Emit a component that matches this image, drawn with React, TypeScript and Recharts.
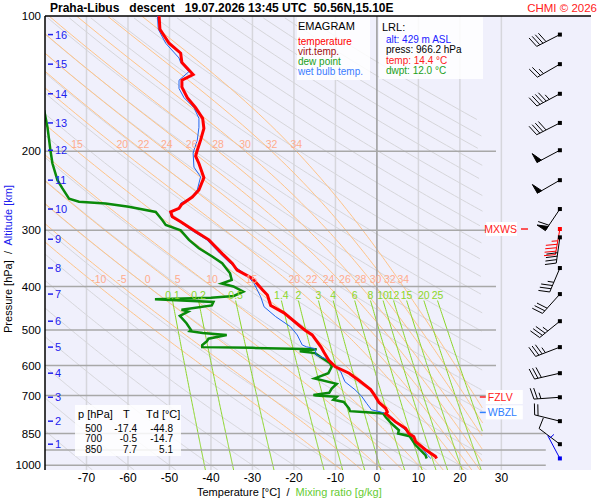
import React from "react";
import {
  ComposedChart,
  Line,
  Scatter,
  XAxis,
  YAxis,
  CartesianGrid,
  ReferenceLine,
} from "recharts";

const FONT = "'Liberation Sans', Arial, Helvetica, sans-serif";

// sounding: [pressure hPa, °C]
const temperature: [number, number][] = [
  [966, 14.4], [956, 14.1], [924, 11.7], [886, 9.3], [864, 8.9], [850, 7.7],
  [828, 6.9], [801, 4.5], [767, 2.1], [761, 2.5], [747, 2.1], [725, 0.5],
  [700, -0.5], [679, -1.5], [648, -4.3], [624, -6.7], [604, -10.0], [584, -11.6],
  [560, -12.8], [545, -13.5], [513, -15.6], [500, -17.4], [488, -18.8], [458, -22.4],
  [441, -25.6], [418, -26.4], [407, -27.6], [384, -30.0], [368, -33.7], [355, -34.9],
  [338, -37.3], [315, -40.5], [302, -43.7], [287, -47.3], [280, -49.3], [273, -49.7],
  [268, -47.7], [263, -47.1], [253, -44.5], [244, -42.9], [229, -41.7], [213, -42.9],
  [205, -43.7], [199, -43.3], [189, -42.5], [178, -41.7], [169, -42.0], [160, -43.7],
  [152, -45.7], [144, -47.0], [139, -47.0], [135, -44.3], [127, -47.0], [121, -47.3],
  [115, -50.1], [107, -52.3], [100, -52.5],
];

const dewPoint: [number, number][] = [
  [966, 12.0], [950, 11.7], [902, 9.3], [862, 7.9], [850, 5.1], [836, 5.3],
  [804, 3.3], [781, 2.1], [767, 1.5], [762, -2.5], [758, -6.5], [748, -6.7],
  [723, -8.0], [715, -10.5], [704, -9.7], [700, -14.7], [698, -15.3], [690, -11.5],
  [675, -10.9], [659, -9.7], [641, -15.0], [624, -11.7], [604, -10.9], [593, -11.3],
  [575, -13.5], [563, -14.9], [558, -18.6], [552, -14.5], [548, -30.0], [546, -42.1],
  [540, -42.1], [530, -41.0], [523, -40.6], [513, -36.2], [508, -42.0], [503, -45.1],
  [500, -44.8], [483, -45.9], [465, -47.5], [455, -45.5], [451, -47.1], [441, -39.8],
  [433, -39.4], [427, -53.5], [424, -40.0], [420, -34.5], [411, -32.2], [400, -34.6],
  [394, -37.4], [387, -35.0], [374, -35.4], [355, -37.3], [343, -39.7], [329, -42.9],
  [315, -45.3], [300, -47.3], [292, -50.9], [285, -51.7], [273, -53.3], [266, -59.8],
  [261.5, -65.4], [259, -71.8], [255, -74.2], [242, -75.8], [232, -77.0], [213, -78.2],
  [199, -78.7], [189, -79.0], [177, -79.4], [162, -80.2],
];

const wetBulb: [number, number][] = [
  [966, 13.0], [950, 12.2], [924, 11.2], [880, 9.4], [842, 7.3], [813, 5.3],
  [771, 2.5], [761, 0.9], [753, -1.3], [728, -2.5], [702, -3.7], [679, -5.3],
  [652, -7.7], [620, -8.7], [604, -10.0], [584, -11.6], [579, -12.4], [569, -14.6],
  [550, -15.0], [545, -17.0], [540, -18.0], [513, -19.2], [492, -20.8], [467, -24.4],
  [444, -27.2], [422, -28.0], [394, -29.6], [378, -31.3], [355, -35.4], [338, -37.8],
  [315, -41.0], [302, -44.2], [287, -47.6], [280, -49.6], [273, -49.9], [268, -47.7],
  [261, -47.3], [254, -44.9], [244, -43.3], [228, -42.5], [217, -44.1], [202, -44.3],
  [199, -44.1], [189, -43.3], [177, -42.9], [169, -42.9], [160, -44.1], [152, -46.5],
  [145, -47.7], [139, -47.7], [133, -45.3], [127, -47.3], [124, -47.7], [115, -50.9],
  [107, -52.7], [100, -52.9],
];

// altitude marks [km] and where they sit [hPa]
const altKm = [16, 15, 14, 13, 12, 11, 10, 9, 8, 7, 6, 5, 4, 3, 2, 1];
const altP = [110, 128, 149, 173, 199, 232, 269, 314, 364, 416, 478, 546, 624, 706, 798, 898];

// wind barbs: pressure, direction (deg), speed (kt)
const windP = [110, 128, 149, 173, 199, 232, 269, 298, 311, 364, 416, 478, 546, 624, 706, 798, 898, 966];
const windDir = [243, 240, 242, 243, 242, 240, 214, 190, 188, 203, 222, 231, 249, 257, 266, 284, 307, 332];
const windSpd = [40, 25, 45, 40, 50, 50, 60, 45, 40, 35, 30, 35, 35, 30, 25, 20, 10, 5];
const windKind = ["", "", "", "", "", "", "", "max", "", "", "", "", "", "", "", "", "", "sfc"];

// diagram grid
const pressureTicks = [100, 200, 300, 400, 500, 600, 700, 850, 925, 1000];
const tempTicks = [-70, -60, -50, -40, -30, -20, -10, 0, 10, 20, 30];
const isobars = [200, 300, 400, 500, 600, 700, 850, 925, 1000];
const isobarEnd = [28.7, 28.7, 28.7, 28.7, 28.7, 28.7, 40.7, 40.7, 40.7];
const dryTheta = [-70, -60, -50, -40, -30, -20, -10, 0, 10, 20, 30, 40, 50, 60, 70, 80, 90, 100, 110, 120, 130, 140, 150, 160, 170, 180, 190, 200, 210, 220];
const wetTheta = [-10, -5, 0, 5, 10, 15, 20, 22, 24, 26, 28, 30, 32, 34];
const mixRatios = [0.1, 0.2, 0.5, 1.4, 2, 3, 4, 6, 8, 10, 12, 15, 20, 25];
const mixLabels = ["0.1", "0.2", "0.5", "1.4", "2", "3", "4", "6", "8", "10", "12", "15", "20", "25"];

// lower-left table
const tableP = ["500", "700", "850"];
const tableT = ["-17.4", "-0.5", "7.7"];
const tableTd = ["-44.8", "-14.7", "5.1"];

const T_MIN = -80;
const T_MAX = 51.6;
const T_CLIP = 25.5;

const toPts = (rows: [number, number][]) => rows.map(([p, t]) => ({ p, t }));

// thermodynamic helpers for the background lines
const RD = 287.04, CP = 1005.7, LV = 2.501e6, EPS = 0.622;
const esat = (tc: number) => 6.112 * Math.exp((17.67 * tc) / (tc + 243.5));
const dewFromE = (e: number) => {
  const a = Math.log(e / 6.112);
  return (243.5 * a) / (17.67 - a);
};
const moistRate = (p: number, tk: number) => {
  const es = esat(tk - 273.15);
  const rs = (EPS * es) / (p - es);
  return (RD * tk + LV * rs) / (p * (CP + (LV * LV * rs * EPS) / (RD * tk * tk)));
};
const rk4 = (p: number, tk: number, dp: number) => {
  const k1 = moistRate(p, tk);
  const k2 = moistRate(p + dp / 2, tk + (dp / 2) * k1);
  const k3 = moistRate(p + dp / 2, tk + (dp / 2) * k2);
  const k4 = moistRate(p + dp, tk + dp * k3);
  return tk + (dp / 6) * (k1 + 2 * k2 + 2 * k3 + k4);
};

function dryLine(theta: number) {
  const pts: { p: number; t: number }[] = [];
  for (let p = 1025; p >= 100; p -= 3) {
    const t = (theta + 273.15) * Math.pow(p / 1000, 0.2857) - 273.15;
    if (t <= T_CLIP) pts.push({ p, t });
  }
  return pts;
}

function wetLine(tw: number) {
  const pts: { p: number; t: number }[] = [];
  let tk = tw + 273.15;
  for (let p = 1000; p < 1025; p += 5) tk = rk4(p, tk, 5);
  let at200 = 0, at400 = 0;
  for (let p = 1025; p > 100; p -= 5) {
    const t = tk - 273.15;
    if (t <= T_CLIP) pts.push({ p, t });
    if (p === 400) at400 = t;
    if (p === 200) at200 = t;
    tk = rk4(p, tk, -5);
  }
  pts.push({ p: 100, t: tk - 273.15 });
  return { pts, at200, at400 };
}

function mixLine(w: number) {
  const pts: { p: number; t: number }[] = [];
  for (let p = 1025; p >= 430; p -= 5) {
    const t = dewFromE((w * p) / (622 + w));
    if (t <= T_CLIP) pts.push({ p, t });
  }
  return pts;
}

const dryLines = dryTheta.map(dryLine);
const wetLines = wetTheta.map(wetLine);
const mixLines = mixRatios.map(mixLine);

const wetLabels = [
  ...wetTheta.map((w, i) => ({ t: wetLines[i].at400, p: 385, label: String(w) })),
  ...wetTheta
    .map((w, i) => ({ t: wetLines[i].at200, p: 193, label: String(w) }))
    .filter((d) => d.t > -77),
];
const mixLabelPts = mixRatios.map((w, i) => ({
  t: dewFromE((w * 430) / (622 + w)),
  p: 418,
  label: mixLabels[i],
}));
const altPts = altKm.map((km, i) => ({ t: T_MIN, p: altP[i], label: String(km) }));
const windPts = windP.map((p, i) => ({
  t: 44.1,
  p,
  dir: windDir[i],
  spd: windSpd[i],
  color: windKind[i] === "max" ? "#ff0000" : windKind[i] === "sfc" ? "#0000ee" : "#000000",
}));
const levelMarks = [
  { t: 34.0, p: 298, label: "MXWS", color: "#ff2020", side: "left" },
  { t: 24.8, p: 705, label: "FZLV", color: "#ff2020", side: "right" },
  { t: 24.8, p: 763, label: "WBZL", color: "#3080ff", side: "right" },
];

const TextShape = (color: string, size: number) => (props: any) => {
  const { cx, cy, payload } = props;
  if (cx == null || cy == null) return <g />;
  return (
    <text x={cx} y={cy} fill={color} fontSize={size} fontFamily={FONT} textAnchor="middle" dominantBaseline="central">
      {payload.label}
    </text>
  );
};

const AltShape = (props: any) => {
  const { cx, cy, payload } = props;
  if (cx == null || cy == null) return <g />;
  return (
    <g>
      <line x1={cx + 3} x2={cx + 8} y1={cy} y2={cy} stroke="#2020ee" strokeWidth={1.5} />
      <text x={cx + 10} y={cy} fill="#2020ee" fontSize={11} fontFamily={FONT} dominantBaseline="central">
        {payload.label}
      </text>
    </g>
  );
};

const LevelShape = (props: any) => {
  const { cx, cy, payload } = props;
  if (cx == null || cy == null) return <g />;
  const c = payload.color;
  if (payload.side === "left") {
    return (
      <g>
        <rect x={cx - 32} y={cy - 7} width={31} height={14} fill="#ffffff" />
        <text x={cx - 1} y={cy} fill={c} fontSize={10.5} fontFamily={FONT} textAnchor="end" dominantBaseline="central">
          {payload.label}
        </text>
        <line x1={cx + 3} x2={cx + 10} y1={cy} y2={cy} stroke={c} strokeWidth={1.5} />
      </g>
    );
  }
  return (
    <g>
      <rect x={cx + 6} y={cy - 7} width={37} height={14} fill="#ffffff" />
      <line x1={cx} x2={cx + 6} y1={cy} y2={cy} stroke={c} strokeWidth={1.5} />
      <text x={cx + 8} y={cy} fill={c} fontSize={10.5} fontFamily={FONT} dominantBaseline="central">
        {payload.label}
      </text>
    </g>
  );
};

const BarbShape = (props: any) => {
  const { cx, cy, payload } = props;
  if (cx == null || cy == null) return <g />;
  const c = payload.color;
  const a = (payload.dir * Math.PI) / 180;
  const sx = Math.sin(a);
  const sy = -Math.cos(a);
  const nx = -sy;
  const ny = sx;
  const L = 26;
  const tx = cx + sx * L;
  const ty = cy + sy * L;
  let spd = payload.spd;
  const flags = Math.floor(spd / 50);
  spd -= flags * 50;
  const full = Math.floor(spd / 10);
  spd -= full * 10;
  const half = spd >= 5 ? 1 : 0;
  const marks: React.ReactNode[] = [];
  let pos = 0;
  for (let i = 0; i < flags; i++) {
    const b1x = tx - sx * pos, b1y = ty - sy * pos;
    const b2x = tx - sx * (pos + 5), b2y = ty - sy * (pos + 5);
    const ax = b1x + nx * 10, ay = b1y + ny * 10;
    marks.push(<polygon key={"f" + i} points={`${b1x},${b1y} ${ax},${ay} ${b2x},${b2y}`} fill={c} stroke={c} />);
    pos += 6.5;
  }
  for (let i = 0; i < full; i++) {
    const bx = tx - sx * pos, by = ty - sy * pos;
    marks.push(<line key={"b" + i} x1={bx} y1={by} x2={bx + nx * 11 + sx * 3} y2={by + ny * 11 + sy * 3} stroke={c} strokeWidth={1} />);
    pos += 3.5;
  }
  if (half) {
    if (pos === 0) pos = 3.5;
    const bx = tx - sx * pos, by = ty - sy * pos;
    marks.push(<line key="h" x1={bx} y1={by} x2={bx + nx * 6 + sx * 1.5} y2={by + ny * 6 + sy * 1.5} stroke={c} strokeWidth={1} />);
  }
  return (
    <g>
      <line x1={cx} y1={cy} x2={tx} y2={ty} stroke={c} strokeWidth={1} />
      {marks}
      <rect x={cx - 2} y={cy - 2} width={4} height={4} fill={c} />
    </g>
  );
};

const boxStyle: React.CSSProperties = {
  position: "absolute",
  background: "rgba(255,255,255,0.85)",
  fontFamily: FONT,
  lineHeight: 1,
};

export default function App() {
  return (
    <div style={{ position: "absolute", left: 0, top: 0, width: 600, height: 500, background: "#ffffff", fontFamily: FONT }}>
      <ComposedChart width={600} height={500} margin={{ top: 16, right: 9, bottom: 0, left: 0 }}>
        <CartesianGrid horizontal={false} vertical={false} fill="#f0f0fc" stroke="none" />
        <XAxis
          type="number"
          dataKey="t"
          domain={[T_MIN, T_MAX]}
          ticks={tempTicks}
          allowDataOverflow
          height={30}
          tickSize={0}
          tickMargin={3}
          axisLine={false}
          tickLine={false}
          tick={{ fill: "#000", fontSize: 12, fontFamily: FONT }}
        />
        <YAxis
          type="number"
          dataKey="p"
          scale="log"
          domain={[100, 1025]}
          reversed
          ticks={pressureTicks}
          allowDataOverflow
          width={45}
          tickSize={0}
          tickMargin={4}
          axisLine={{ stroke: "#000", strokeWidth: 1.5 }}
          tickLine={false}
          tick={{ fill: "#000", fontSize: 11.5, fontFamily: FONT }}
        />
        {tempTicks.filter((t) => t !== 0).map((t) => (
          <ReferenceLine key={"it" + t} x={t} stroke="#d6d6dc" strokeWidth={1.5} />
        ))}
        {dryLines.map((pts, i) => (
          <Line key={"dry" + i} data={pts} dataKey="p" stroke="#d6d6da" strokeWidth={1} dot={false} activeDot={false} isAnimationActive={false} legendType="none" />
        ))}
        {wetLines.map((w, i) => (
          <Line key={"wet" + i} data={w.pts} dataKey="p" stroke="#ffc488" strokeWidth={1} dot={false} activeDot={false} isAnimationActive={false} legendType="none" />
        ))}
        {mixLines.map((pts, i) => (
          <Line key={"mix" + i} data={pts} dataKey="p" stroke="#8cd629" strokeWidth={1} dot={false} activeDot={false} isAnimationActive={false} legendType="none" />
        ))}
        <ReferenceLine x={0} stroke="#9a9a9a" strokeWidth={1.5} />
        {isobars.map((p, i) => (
          <ReferenceLine key={"ib" + p} segment={[{ x: T_MIN, y: p }, { x: isobarEnd[i], y: p }]} stroke="#a8a8a8" strokeWidth={1.5} />
        ))}
        <ReferenceLine y={100} stroke="#000" strokeWidth={1.5} />
        <Scatter data={wetLabels} shape={TextShape("#ffac8c", 10.5)} isAnimationActive={false} legendType="none" />
        <Scatter data={mixLabelPts} shape={TextShape("#8cd629", 10.5)} isAnimationActive={false} legendType="none" />
        <Scatter data={altPts} shape={AltShape} isAnimationActive={false} legendType="none" />
        <Line data={toPts(dewPoint)} dataKey="p" stroke="#0a8a0a" strokeWidth={2.5} dot={false} activeDot={false} isAnimationActive={false} legendType="none" />
        <Line data={toPts(wetBulb)} dataKey="p" stroke="#2266ee" strokeWidth={1} dot={false} activeDot={false} isAnimationActive={false} legendType="none" />
        <Line data={toPts(temperature)} dataKey="p" stroke="#ff0000" strokeWidth={3} dot={false} activeDot={false} isAnimationActive={false} legendType="none" />
        <Scatter data={windPts} shape={BarbShape} isAnimationActive={false} legendType="none" />
        <Scatter data={levelMarks} shape={LevelShape} isAnimationActive={false} legendType="none" />
      </ComposedChart>

      <div style={{ position: "absolute", left: 50, top: 1, fontSize: 12, fontWeight: "bold", whiteSpace: "pre", color: "#000" }}>
        {"Praha-Libus   descent   19.07.2026 13:45 UTC  50.56N,15.10E"}
      </div>
      <div style={{ position: "absolute", right: 3, top: 2, fontSize: 11.5, color: "#ff2020" }}>CHMI © 2026</div>

      <div style={{ ...boxStyle, left: 297, top: 17, width: 73, height: 63 }}>
        <div style={{ position: "absolute", left: 1, top: 4, fontSize: 11, color: "#000" }}>EMAGRAM</div>
        <div style={{ position: "absolute", left: 1, top: 20, fontSize: 10, color: "#ff0000" }}>temperature</div>
        <div style={{ position: "absolute", left: 1, top: 30, fontSize: 10, color: "#a01010" }}>virt.temp.</div>
        <div style={{ position: "absolute", left: 1, top: 40, fontSize: 10, color: "#20a020" }}>dew point</div>
        <div style={{ position: "absolute", left: 1, top: 50, fontSize: 10, color: "#3a7cff" }}>wet bulb temp.</div>
      </div>

      <div style={{ ...boxStyle, left: 379, top: 17, width: 104, height: 62 }}>
        <div style={{ position: "absolute", left: 3, top: 5, fontSize: 11, color: "#000" }}>LRL:</div>
        <div style={{ position: "absolute", left: 7, top: 17.5, fontSize: 10, color: "#2020ff" }}>alt: 429 m ASL</div>
        <div style={{ position: "absolute", left: 7, top: 28, fontSize: 10, color: "#000" }}>press: 966.2 hPa</div>
        <div style={{ position: "absolute", left: 7, top: 38.5, fontSize: 10, color: "#ff2020" }}>temp: 14.4 °C</div>
        <div style={{ position: "absolute", left: 7, top: 49, fontSize: 10, color: "#20a020" }}>dwpt: 12.0 °C</div>
      </div>

      <div style={{ ...boxStyle, left: 75, top: 405, width: 106, height: 51, color: "#000" }}>
        <div style={{ position: "absolute", left: 3, top: 4, fontSize: 11 }}>p [hPa]</div>
        <div style={{ position: "absolute", left: 48, top: 4, fontSize: 11 }}>T</div>
        <div style={{ position: "absolute", left: 71, top: 4, fontSize: 11 }}>Td [°C]</div>
        {tableP.map((p, i) => (
          <React.Fragment key={p}>
            <div style={{ position: "absolute", right: 79, top: 19 + i * 10.4, fontSize: 10 }}>{p}</div>
            <div style={{ position: "absolute", right: 44, top: 19 + i * 10.4, fontSize: 10 }}>{tableT[i]}</div>
            <div style={{ position: "absolute", right: 8, top: 19 + i * 10.4, fontSize: 10 }}>{tableTd[i]}</div>
          </React.Fragment>
        ))}
      </div>

      <div style={{ position: "absolute", left: 197, top: 486, fontSize: 11, whiteSpace: "pre", color: "#000" }}>
        {"Temperature [°C]  /  "}
        <span style={{ color: "#66cc33" }}>Mixing ratio [g/kg]</span>
      </div>
      <div
        style={{
          position: "absolute",
          left: 8,
          top: 259,
          fontSize: 11,
          whiteSpace: "pre",
          color: "#000",
          transform: "translate(-50%, -50%) rotate(-90deg)",
        }}
      >
        {"Pressure [hPa]  /  "}
        <span style={{ color: "#2020ee" }}>Altitude [km]</span>
      </div>
    </div>
  );
}
